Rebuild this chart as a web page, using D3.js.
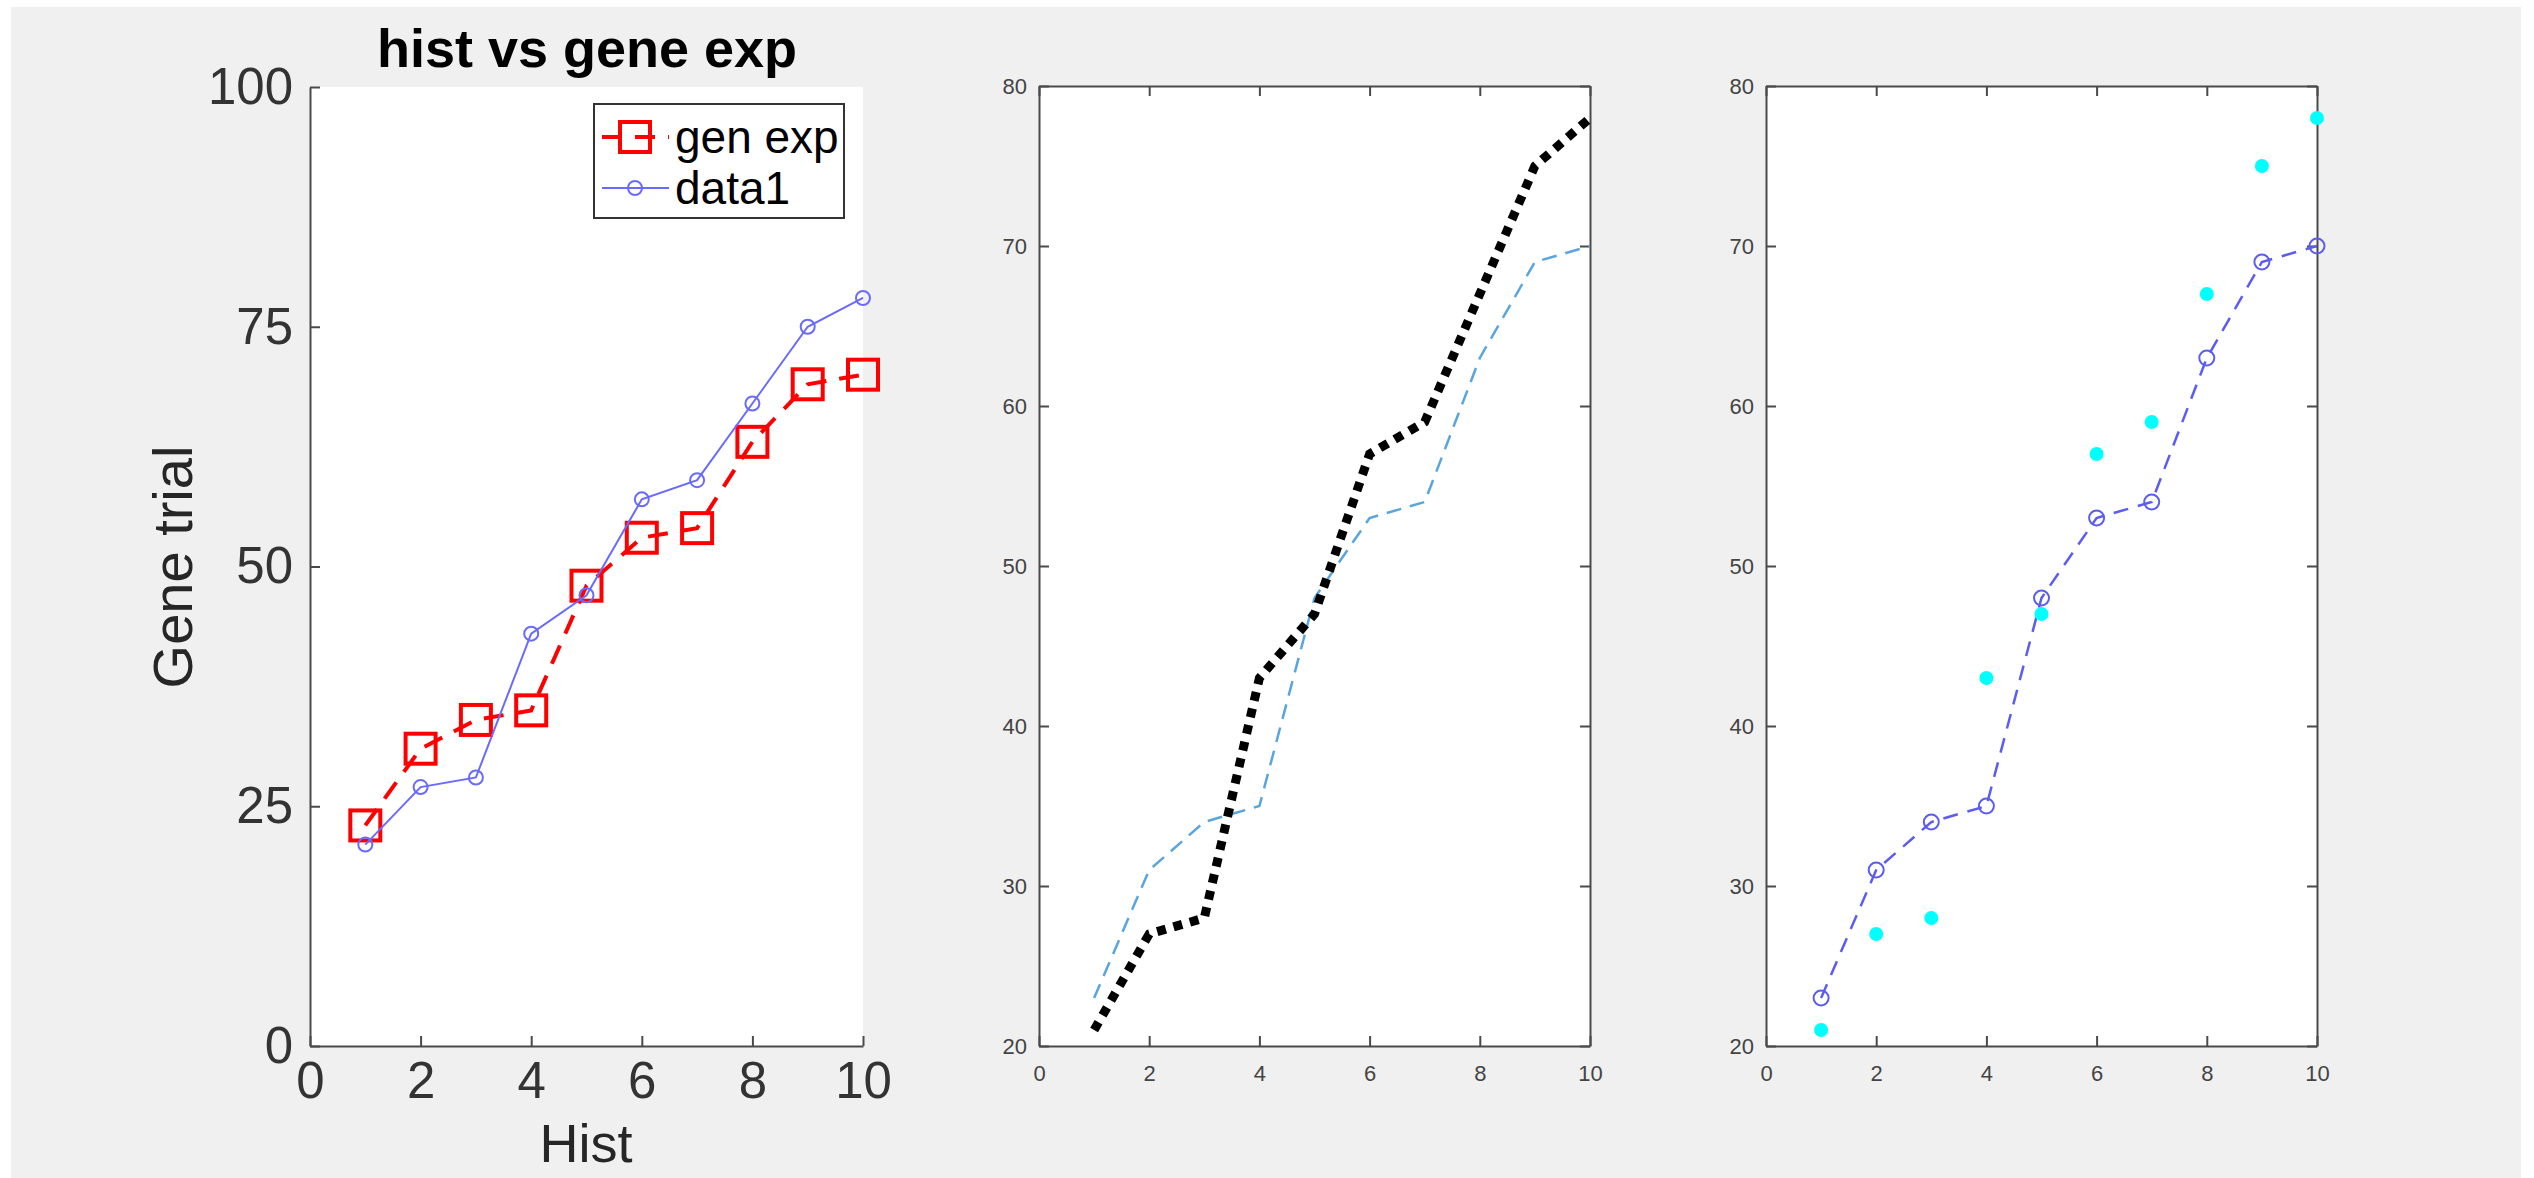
<!DOCTYPE html>
<html>
<head>
<meta charset="utf-8">
<script src="https://cdn.jsdelivr.net/npm/d3@7"></script>
<style>
  html, body { margin: 0; padding: 0; background: #ffffff; }
  svg { display: block; }
  text { font-family: Arial, "Liberation Sans", Helvetica, sans-serif; }
</style>
</head>
<body>
<svg id="fig" width="2534" height="1178"></svg>
<script>
// Trial index and the two measured series
const hist = [1, 2, 3, 4, 5, 6, 7, 8, 9, 10];
const genExp = [23, 31, 34, 35, 48, 53, 54, 63, 69, 70];
const data1 = [21, 27, 28, 43, 47, 57, 59, 67, 75, 78];

// Axis ticks
const xTicks = [0, 2, 4, 6, 8, 10];
const yTicksMain = [0, 25, 50, 75, 100];
const yTicksSmall = [20, 30, 40, 50, 60, 70, 80];

// Text
const titleText = "hist vs gene exp";
const xLabelText = "Hist";
const yLabelText = "Gene trial";
const legendNames = ["gen exp", "data1"];

const svg = d3.select("#fig");

// figure background
svg.append("rect").attr("x", 11).attr("y", 7).attr("width", 2510).attr("height", 1171)
  .attr("fill", "#f0f0f0");

const axisColor = "#4a4a4a";

function makePanel(cfg) {
  const g = svg.append("g");
  const x = d3.scaleLinear().domain(cfg.xDomain).range([cfg.left, cfg.right]);
  const y = d3.scaleLinear().domain(cfg.yDomain).range([cfg.bottom, cfg.top]);
  g.append("rect").attr("x", cfg.left).attr("y", cfg.top)
    .attr("width", cfg.right - cfg.left).attr("height", cfg.bottom - cfg.top)
    .attr("fill", "#ffffff");

  const tickLen = 10;
  const styleAxis = sel => {
    sel.select(".domain").attr("stroke", axisColor).attr("stroke-width", 2);
    sel.selectAll(".tick line").attr("stroke", axisColor).attr("stroke-width", 2);
    sel.selectAll(".tick text").attr("fill", cfg.labelColor)
      .attr("font-size", cfg.tickFont);
  };

  const xAxis = g.append("g").attr("transform", `translate(0,${cfg.bottom})`)
    .call(d3.axisBottom(x).tickValues(cfg.xTicks).tickSizeInner(-tickLen).tickSizeOuter(0)
      .tickPadding(cfg.xPad));
  styleAxis(xAxis);
  xAxis.selectAll(".tick text").attr("dy", "0.71em");

  const yAxis = g.append("g").attr("transform", `translate(${cfg.left},0)`)
    .call(d3.axisLeft(y).tickValues(cfg.yTicks).tickSizeInner(-tickLen).tickSizeOuter(0)
      .tickPadding(cfg.yPad));
  styleAxis(yAxis);

  if (cfg.box) {
    const tAxis = g.append("g").attr("transform", `translate(0,${cfg.top})`)
      .call(d3.axisTop(x).tickValues(cfg.xTicks).tickSizeInner(-tickLen).tickSizeOuter(0).tickFormat(""));
    styleAxis(tAxis);
    const rAxis = g.append("g").attr("transform", `translate(${cfg.right},0)`)
      .call(d3.axisRight(y).tickValues(cfg.yTicks).tickSizeInner(-tickLen).tickSizeOuter(0).tickFormat(""));
    styleAxis(rAxis);
  }
  return { g, x, y };
}

const rows1 = hist.map((h, i) => ({ h, a: genExp[i], b: data1[i] }));

// ---------- Panel 1 ----------
const p1 = makePanel({
  left: 310, right: 863, top: 87, bottom: 1046,
  xDomain: [0, 10], yDomain: [0, 100], xTicks, yTicks: yTicksMain,
  tickFont: 51, labelColor: "#333333", xPad: 16, yPad: 17, box: false
});

const line1a = d3.line().x(d => p1.x(d.h)).y(d => p1.y(d.a));
const line1b = d3.line().x(d => p1.x(d.h)).y(d => p1.y(d.b));

p1.g.append("path").datum(rows1).attr("d", line1a)
  .attr("fill", "none").attr("stroke", "#ff0000").attr("stroke-width", 4)
  .attr("stroke-dasharray", "20,13");
p1.g.selectAll(".sq").data(rows1).join("rect")
  .attr("x", d => p1.x(d.h) - 15).attr("y", d => p1.y(d.a) - 15)
  .attr("width", 30).attr("height", 30)
  .attr("fill", "none").attr("stroke", "#ff0000").attr("stroke-width", 4);

p1.g.append("path").datum(rows1).attr("d", line1b)
  .attr("fill", "none").attr("stroke", "#6a6aff").attr("stroke-width", 2);
p1.g.selectAll(".ci").data(rows1).join("circle")
  .attr("cx", d => p1.x(d.h)).attr("cy", d => p1.y(d.b)).attr("r", 7)
  .attr("fill", "none").attr("stroke", "#6a6aff").attr("stroke-width", 2);

// title and axis labels
svg.append("text").attr("x", 587).attr("y", 67).attr("text-anchor", "middle")
  .attr("font-size", 54).attr("font-weight", "bold").attr("fill", "#000")
  .text(titleText);
svg.append("text").attr("x", 586).attr("y", 1162).attr("text-anchor", "middle")
  .attr("font-size", 54).attr("fill", "#262626").text(xLabelText);
svg.append("text").attr("transform", "translate(192,567) rotate(-90)")
  .attr("text-anchor", "middle").attr("font-size", 56).attr("fill", "#262626")
  .text(yLabelText);

// legend
const leg = svg.append("g");
leg.append("rect").attr("x", 594).attr("y", 104).attr("width", 250).attr("height", 114)
  .attr("fill", "#ffffff").attr("stroke", "#333333").attr("stroke-width", 2);
leg.append("line").attr("x1", 602).attr("x2", 669).attr("y1", 137).attr("y2", 137)
  .attr("stroke", "#ff0000").attr("stroke-width", 4).attr("stroke-dasharray", "20,13");
leg.append("rect").attr("x", 620).attr("y", 122).attr("width", 30).attr("height", 30)
  .attr("fill", "none").attr("stroke", "#ff0000").attr("stroke-width", 4);
leg.append("line").attr("x1", 602).attr("x2", 669).attr("y1", 188).attr("y2", 188)
  .attr("stroke", "#6a6aff").attr("stroke-width", 2);
leg.append("circle").attr("cx", 635).attr("cy", 188).attr("r", 7)
  .attr("fill", "none").attr("stroke", "#6a6aff").attr("stroke-width", 2);
leg.selectAll(".lt").data(legendNames).join("text")
  .attr("x", 675).attr("y", (d, i) => 137 + i * 51).attr("dy", "0.35em")
  .attr("font-size", 46).attr("fill", "#000").text(d => d);

// ---------- Panel 2 ----------
const p2 = makePanel({
  left: 1039, right: 1590, top: 86, bottom: 1046,
  xDomain: [0, 10], yDomain: [20, 80], xTicks, yTicks: yTicksSmall,
  tickFont: 22, labelColor: "#444444", xPad: 19, yPad: 12, box: true
});
p2.g.append("path").datum(rows1)
  .attr("d", d3.line().x(d => p2.x(d.h)).y(d => p2.y(d.a)))
  .attr("fill", "none").attr("stroke", "#5aa5de").attr("stroke-width", 2.5)
  .attr("stroke-dasharray", "15,9");
p2.g.append("path").datum(rows1)
  .attr("d", d3.line().x(d => p2.x(d.h)).y(d => p2.y(d.b)))
  .attr("fill", "none").attr("stroke", "#000000").attr("stroke-width", 9)
  .attr("stroke-dasharray", "9,8");

// ---------- Panel 3 ----------
const p3 = makePanel({
  left: 1766, right: 2317, top: 86, bottom: 1046,
  xDomain: [0, 10], yDomain: [20, 80], xTicks, yTicks: yTicksSmall,
  tickFont: 22, labelColor: "#444444", xPad: 19, yPad: 12, box: true
});
p3.g.append("path").datum(rows1)
  .attr("d", d3.line().x(d => p3.x(d.h)).y(d => p3.y(d.a)))
  .attr("fill", "none").attr("stroke", "#5c5cf2").attr("stroke-width", 2.5)
  .attr("stroke-dasharray", "15,10");
p3.g.selectAll(".ci3").data(rows1).join("circle")
  .attr("cx", d => p3.x(d.h)).attr("cy", d => p3.y(d.a)).attr("r", 7.5)
  .attr("fill", "none").attr("stroke", "#5c5cf2").attr("stroke-width", 2);
p3.g.selectAll(".dot3").data(rows1).join("circle")
  .attr("cx", d => p3.x(d.h)).attr("cy", d => p3.y(d.b)).attr("r", 7)
  .attr("fill", "#00ffff");
</script>
</body>
</html>
